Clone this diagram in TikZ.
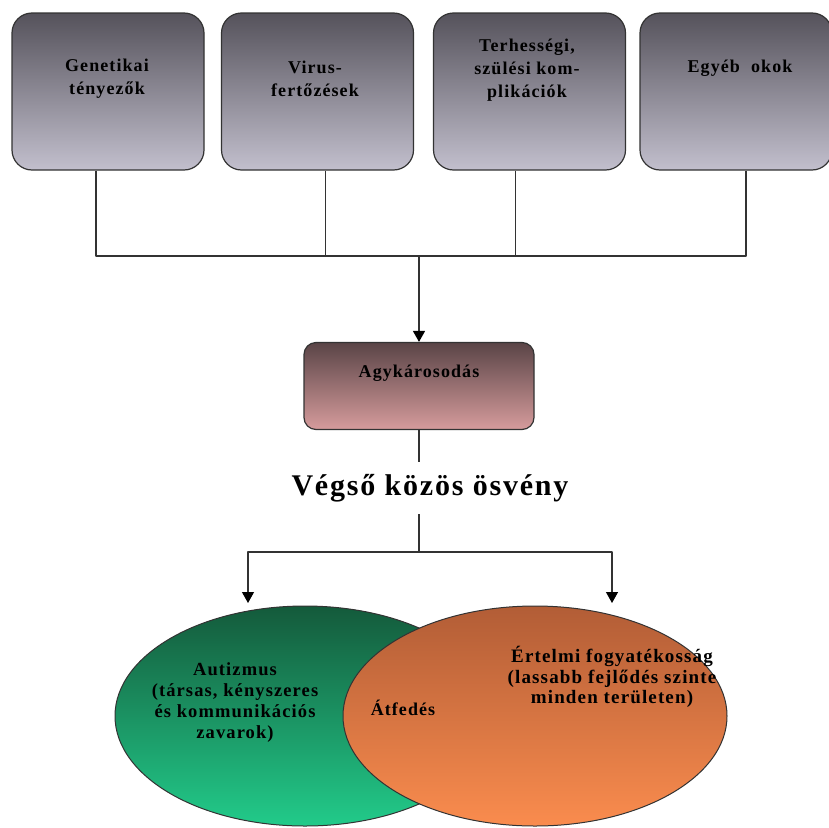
\documentclass[tikz,border=0pt]{standalone}
\usepackage{fontspec}
\setmainfont{Liberation Serif}
\newfontfamily\spacedfont[LetterSpace=6]{Liberation Serif}
\usetikzlibrary{arrows.meta,positioning,shapes.geometric}
\definecolor{lineDark}{HTML}{333333}
\definecolor{causeTop}{HTML}{55525B}
\definecolor{causeBottom}{HTML}{C2BFCD}
\definecolor{brainTop}{HTML}{5A4447}
\definecolor{brainBottom}{HTML}{D69C9C}
\definecolor{autTop}{HTML}{145A3B}
\definecolor{autBottom}{HTML}{22CB8A}
\definecolor{intTop}{HTML}{B25D36}
\definecolor{intBottom}{HTML}{FA8C4E}
\newcommand{\boxFont}{\spacedfont\bfseries\fontsize{18}{23}\selectfont}
\newcommand{\titleFont}{\spacedfont\bfseries\fontsize{30}{34}\selectfont}
\tikzset{
  cause/.style={draw=lineDark, line width=1.2pt, rounded corners=20pt,
    top color=causeTop, bottom color=causeBottom,
    minimum width=192pt, minimum height=157pt, inner sep=0pt},
  causetext/.style={font=\boxFont, align=center, text=black, inner sep=0pt},
  link/.style={draw=lineDark, line width=1.2pt},
  flow/.style={link, -{Triangle[width=12pt,length=11pt,color=black]}},
  venn/.style={ellipse, draw=black!80, line width=1pt, inner sep=0pt}
}
\begin{document}
\begin{tikzpicture}[x=1pt, y=-1pt, line join=round]
  \useasboundingbox (0,0) rectangle (829,827);

  % --- four causes ---
  \node[cause] (gen) at (108,91.5) {};
  \node[cause] (vir) at (317.5,91.5) {};
  \node[cause] (preg) at (529.5,91.5) {};
  \node[cause] (other) at (736,91.5) {};
  \node[causetext] (gentxt) at (107,79) {Genetikai\\tényezők};
  \node[causetext] (virtxt) at (315,79) {Virus-\\fertőzések};
  \node[causetext] (pregtxt) at (527,70) {Terhességi,\\szülési kom-\\plikációk};
  \node[causetext] (othertxt) at (740,68) {Egyéb\ \ okok};

  % joining bus
  \coordinate (join) at (419,256);
  \draw[link] ([xshift=-12pt]gen.south) |- (join);
  \draw[link] ([xshift=8pt]vir.south) |- (join);
  \draw[link] ([xshift=-14pt]preg.south) |- (join);
  \draw[link] ([xshift=10pt]other.south) |- (join);

  % --- brain damage ---
  \node[draw=lineDark, line width=1.2pt, rounded corners=12pt,
        top color=brainTop, bottom color=brainBottom,
        minimum width=230pt, minimum height=87pt, inner sep=0pt]
    (brain) at (419,386) {};
  \node[causetext] (braintxt) at (419,373) {Agykárosodás};
  \draw[flow] (join) -- (brain.north);

  % final common path
  \node[font=\titleFont, inner sep=0pt, minimum height=52pt] (path) at (430,488)
    {Végső közös ösvény};
  \draw[link] (brain.south) -- (brain.south |- path.north);
  \coordinate (split) at (419,552);
  \draw[link] (split |- path.south) -- (split);

  % --- overlapping outcomes ---
  \node[venn, top color=autTop, bottom color=autBottom,
        minimum width=380pt, minimum height=220pt] (aut) at (305,716) {};
  \node[venn, top color=intTop, bottom color=intBottom,
        minimum width=384pt, minimum height=220pt] (int) at (535,716) {};
  \coordinate (autTip) at (248,603);
  \coordinate (intTip) at (612,603);
  \draw[flow] (split) -| (autTip);
  \draw[flow] (split) -| (intTip);

  \node[causetext, font=\spacedfont\bfseries\fontsize{18.5}{21}\selectfont]
    (auttxt) at (235,703)
    {Autizmus\\(társas, kényszeres\\és kommunikációs\\zavarok)};
  \node[causetext, font=\spacedfont\bfseries\fontsize{19}{20.5}\selectfont]
    (inttxt) at (612,677)
    {Értelmi fogyatékosság\\(lassabb fejlődés szinte\\minden területen)};
  \node[causetext] (overlap) at (403,708) {Átfedés};
\end{tikzpicture}
\end{document}
